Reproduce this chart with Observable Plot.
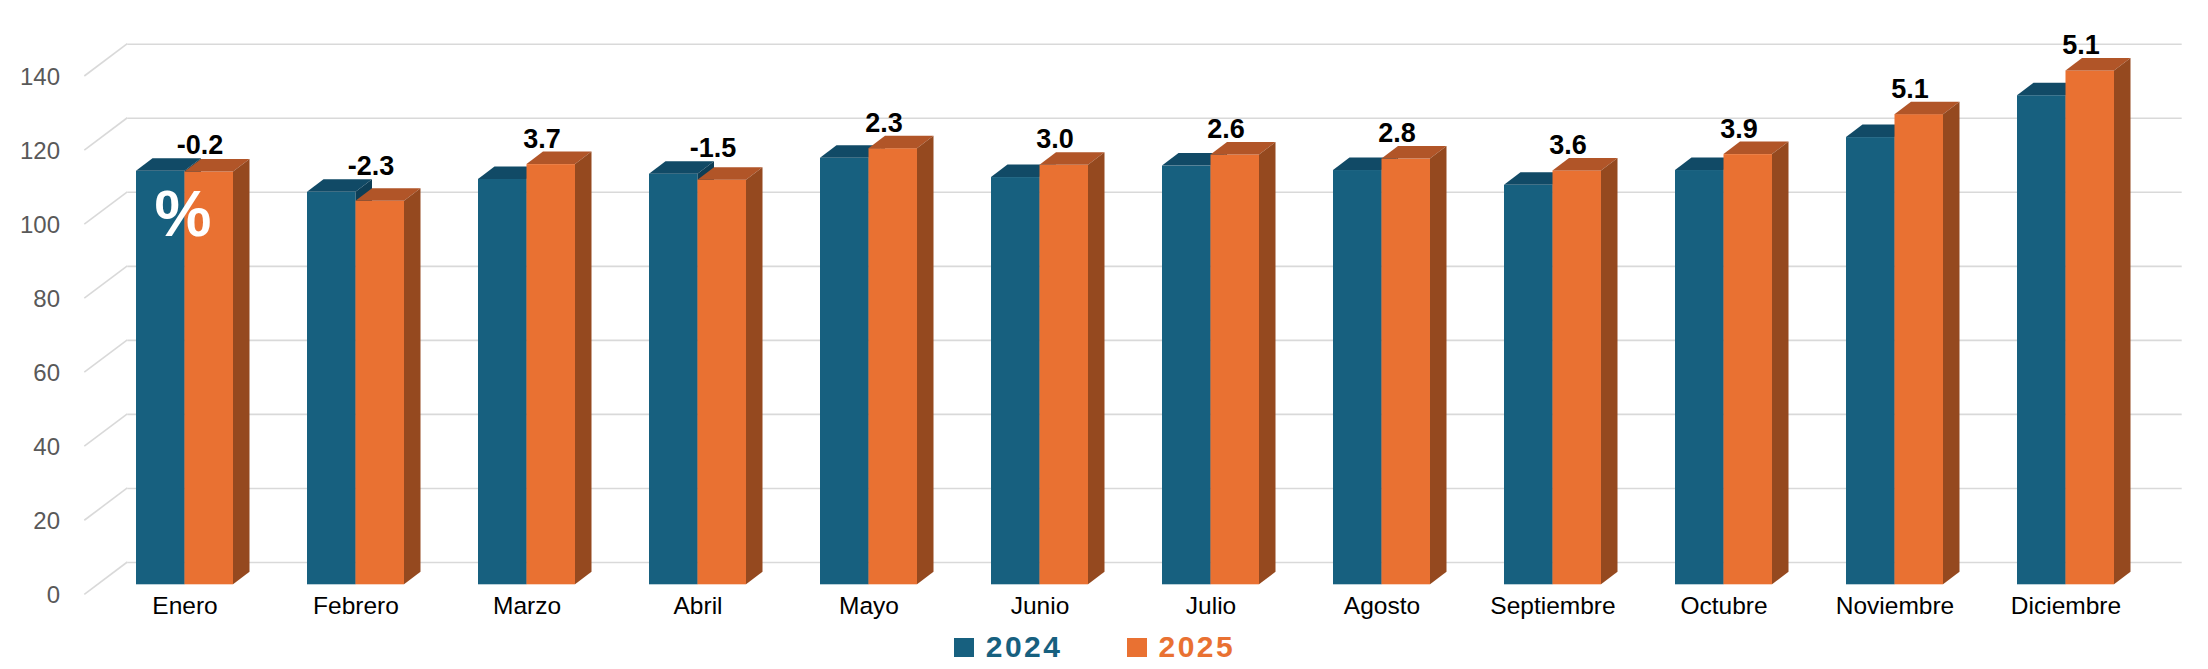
<!DOCTYPE html>
<html>
<head>
<meta charset="utf-8">
<script src="https://cdn.jsdelivr.net/npm/d3@7"></script>
<script src="https://cdn.jsdelivr.net/npm/@observablehq/plot@0.6"></script>
<style>
  html, body { margin: 0; padding: 0; background: #ffffff; }
  #chart { width: 2208px; }
  g[aria-label="value-labels"] text { letter-spacing: 1.5px; }
  .legend { display: flex; justify-content: center; align-items: center; height: 44px; padding-right: 19px;
    font-family: "Liberation Sans", Arial, sans-serif; font-weight: bold; font-size: 30px; letter-spacing: 2.5px; }
  .legend .sw { width: 20px; height: 19px; display: inline-block; }
  .legend .item { display: flex; align-items: center; }
</style>
</head>
<body>
<div id="chart"></div>
<script>
const months = ["Enero","Febrero","Marzo","Abril","Mayo","Junio","Julio","Agosto","Septiembre","Octubre","Noviembre","Diciembre"];
const years = ["2024", "2025"];
const values2024 = [111.7, 106.0, 109.5, 110.9, 115.2, 110.0, 113.1, 111.9, 107.9, 111.9, 120.8, 132.1];
const values2025 = [111.5, 103.6, 113.5, 109.3, 117.8, 113.3, 116.1, 115.0, 111.8, 116.2, 127.0, 138.8];
const changeLabels = ["-0.2", "-2.3", "3.7", "-1.5", "2.3", "3.0", "2.6", "2.8", "3.6", "3.9", "5.1", "5.1"];
const yTicks = [0, 20, 40, 60, 80, 100, 120, 140];
const unitNote = [{month: "Enero", text: "%"}];

const colors = {
  "2024": {front: "#17607F", top: "#114A66", side: "#0D3E56"},
  "2025": {front: "#E97132", top: "#B15528", side: "#95491F"}
};
const DX = 16.5, DY = 12.5;

const data2024 = months.map((m, i) => ({month: m, value: values2024[i]}));
const data2025 = months.map((m, i) => ({month: m, value: values2025[i]}));
const labelData = months.map((m, i) => ({month: m, top: Math.max(values2024[i], values2025[i]), label: changeLabels[i]}));
const noteData = unitNote.map(d => ({...d, value: values2024[months.indexOf(d.month)]}));

function bar3d(side, c) {
  return (index, scales, values) => {
    const half = scales.x.bandwidth() / 2;
    const g = d3.create("svg:g");
    for (const i of index) {
      const x0 = values.x[i] + (side === 1 ? half : 0);
      const x1 = x0 + half;
      const yTop = Math.min(values.y1[i], values.y2[i]);
      const yBot = Math.max(values.y1[i], values.y2[i]);
      g.append("rect").attr("x", x0).attr("y", yTop).attr("width", half).attr("height", yBot - yTop).attr("fill", c.front);
      g.append("path").attr("d", `M${x0},${yTop}L${x1},${yTop}L${x1 + DX},${yTop - DY}L${x0 + DX},${yTop - DY}Z`).attr("fill", c.top);
      g.append("path").attr("d", `M${x1},${yTop}L${x1 + DX},${yTop - DY}L${x1 + DX},${yBot - DY}L${x1},${yBot}Z`).attr("fill", c.side);
    }
    return g.node();
  };
}

const chart = Plot.plot({
  width: 2208,
  height: 625,
  marginLeft: 95.1,
  marginRight: 53.7,
  marginTop: 66,
  marginBottom: 40.7,
  style: {fontFamily: "'Liberation Sans', Arial, sans-serif", background: "#ffffff", overflow: "visible"},
  x: {domain: months, paddingInner: 0.431, paddingOuter: 0.233, axis: null},
  y: {domain: [0, 140], axis: null},
  marks: [
    Plot.ruleY(yTicks, {y: d => d, dx: 32.2, dy: -22.3, insetRight: 4.8, stroke: "#d9d9d9", strokeWidth: 1.6}),
    Plot.tickY(yTicks, {y: d => d, render: (index, scales, values, dimensions) => {
      const g = d3.create("svg:g").attr("stroke", "#d9d9d9").attr("stroke-width", 1.6);
      const xb = dimensions.marginLeft + 32.2, xf = xb - 43;
      for (const i of index) {
        const y = values.y[i];
        g.append("line").attr("x1", xf).attr("y1", y + 10).attr("x2", xb).attr("y2", y - 22.3);
      }
      return g.node();
    }}),
    Plot.text(yTicks, {y: d => d, text: d => String(d), frameAnchor: "left", textAnchor: "end", dx: -35.6, dy: 10.7, fontSize: 24, fill: "#595959"}),
    Plot.barY(data2024, {x: "month", y: "value", render: bar3d(0, colors["2024"])}),
    Plot.barY(data2025, {x: "month", y: "value", render: bar3d(1, colors["2025"])}),
    Plot.text(months, {x: d => d, text: d => d, frameAnchor: "bottom", lineAnchor: "top", dy: 11.6, fontSize: 24.5, fill: "#000000"}),
    Plot.text(labelData, {x: "month", y: "top", text: "label", dx: 15, dy: -17, lineAnchor: "bottom", fontSize: 27, fontWeight: "bold", fill: "#000000", ariaLabel: "value-labels"}),
    Plot.text(noteData, {x: "month", y: "value", text: "text", dx: -2, dy: 44, lineAnchor: "middle", fontSize: 64, fontWeight: "bold", fill: "#ffffff"})
  ]
});
document.getElementById("chart").appendChild(chart);

const legend = document.createElement("div");
legend.className = "legend";
years.forEach((yr, k) => {
  const item = document.createElement("span");
  item.className = "item";
  if (k > 0) item.style.marginLeft = "64px";
  const sw = document.createElement("span");
  sw.className = "sw";
  sw.style.background = colors[yr].front;
  sw.style.marginRight = "12px";
  const t = document.createElement("span");
  t.textContent = yr;
  t.style.color = colors[yr].front;
  item.appendChild(sw);
  item.appendChild(t);
  legend.appendChild(item);
});
document.getElementById("chart").appendChild(legend);
</script>
</body>
</html>
